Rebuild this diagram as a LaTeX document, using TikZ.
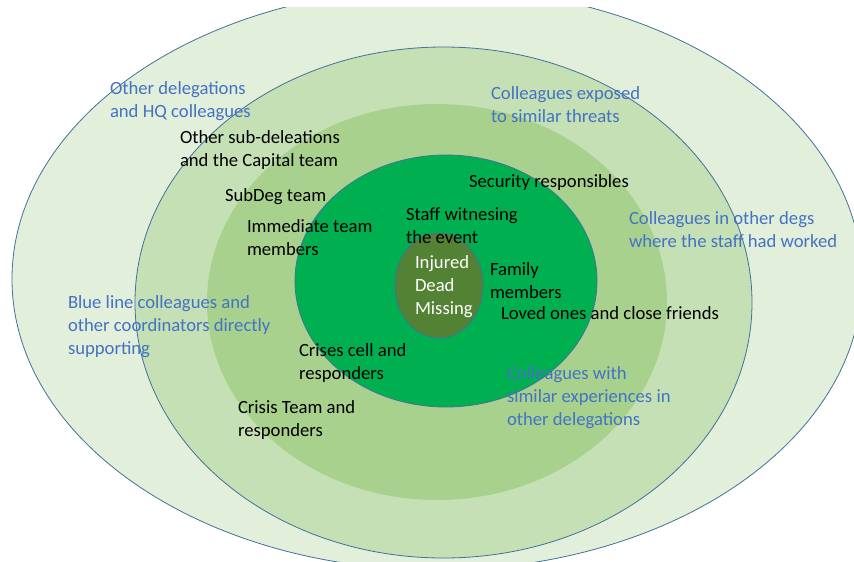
\documentclass[tikz,border=0pt]{standalone}
\usepackage{fontspec}
\setmainfont{Carlito}
\definecolor{ringA}{HTML}{E2EFDA}
\definecolor{ringB}{HTML}{C5E0B4}
\definecolor{ringC}{HTML}{A9D18E}
\definecolor{ringD}{HTML}{00B050}
\definecolor{ringE}{HTML}{548235}
\definecolor{edgeblue}{HTML}{41719C}
\definecolor{txtblue}{HTML}{4472C4}
\newcommand{\mlines}[1]{\begin{tabular}[t]{@{}l@{}}#1\end{tabular}}
\tikzset{
  ringline/.style={draw=edgeblue, line width=0.6pt},
  lbl/.style={anchor=base west, inner sep=0pt, outer sep=0pt, font=\fontsize{14}{17.25}\selectfont, text=black},
  bluelbl/.style={lbl, text=txtblue},
  whitelbl/.style={lbl, text=white}
}
\begin{document}
\begin{tikzpicture}[x=0.75pt,y=-0.75pt]
\useasboundingbox[fill=white] (0,0) rectangle (854,561);
\begin{scope}
\clip (0,7) rectangle (854,561);
\draw[ringline, fill=ringA] (437,279) ellipse [x radius=425, y radius=291];
\draw[ringline, fill=ringB] (443.5,302.5) ellipse [x radius=308.5, y radius=255.5];
\fill[ringC] (437,302) ellipse [x radius=230, y radius=198];
\draw[ringline, fill=ringD] (446,281) ellipse [x radius=151, y radius=126];
\draw[ringline, fill=ringE] (439,285.5) ellipse [x radius=44, y radius=52.5];
\end{scope}
\node[bluelbl] (od) at (110,94) {\mlines{Other delegations\\and HQ colleagues}};
\node[lbl] (osd) at (180,143) {\mlines{Other sub-deleations\\and the Capital team}};
\node[lbl] (sdt) at (225,201) {SubDeg team};
\node[lbl] (itm) at (247,232) {\mlines{Immediate team\\members}};
\node[lbl] (swe) at (406,220) {\mlines{Staff witnesing\\the event}};
\node[lbl] (sec) at (469,187) {Security responsibles};
\node[bluelbl] (cex) at (491,99) {\mlines{Colleagues exposed\\to similar threats}};
\node[bluelbl] (cod) at (629,224) {\mlines{Colleagues in other degs\\where the staff had worked}};
\node[whitelbl] (idm) at (415,268) {\mlines{Injured\\Dead\\Missing}};
\node[lbl] (fam) at (490,275) {\mlines{Family\\members}};
\node[lbl] (lov) at (501,319) {Loved ones and close friends};
\node[bluelbl] (cws) at (507,379) {\mlines{Colleagues with\\similar experiences in\\other delegations}};
\node[bluelbl] (blc) at (68,308) {\mlines{Blue line colleagues and\\other coordinators directly\\supporting}};
\node[lbl] (ccr) at (299,356) {\mlines{Crises cell and\\responders}};
\node[lbl] (ctr) at (238,413) {\mlines{Crisis Team and\\responders}};
\end{tikzpicture}
\end{document}
